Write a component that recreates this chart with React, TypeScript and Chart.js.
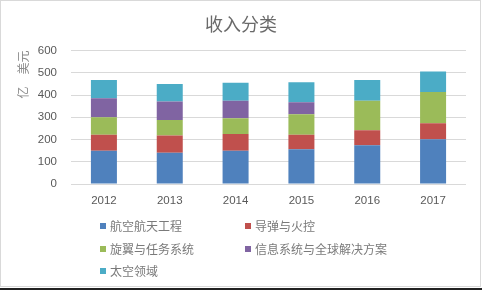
import React, { useEffect, useRef } from "react";
import { Chart, registerables } from "chart.js";

Chart.register(...registerables);

const years = ["2012", "2013", "2014", "2015", "2016", "2017"];
const seriesNames = ["航空航天工程", "导弹与火控", "旋翼与任务系统", "信息系统与全球解决方案", "太空领域"];
const aerospace = [149, 140, 149, 156, 174, 201];
const missiles = [72, 78, 76, 65, 68, 72];
const rotary = [79, 70, 71, 93, 133, 141];
const infoSystems = [86, 83, 78, 54, 0, 0];
const space = [82, 79, 81, 90, 93, 92];
const colors = ["#4F81BD", "#C0504D", "#9BBB59", "#8064A2", "#4BACC6"];
const yTicks = [0, 100, 200, 300, 400, 500, 600];

const FONT = "'Noto Sans CJK SC', 'Noto Sans', sans-serif";
const NUMFONT = "'Liberation Sans', 'DejaVu Sans', sans-serif";

const legendPlugin = {
  id: "customLegend",
  afterDraw(chart: any) {
    const ctx = chart.ctx;
    const cols = [100, 245];
    const rows = [226, 249, 271];
    ctx.save();
    ctx.font = `12px ${FONT}`;
    ctx.textBaseline = "middle";
    ctx.textAlign = "left";
    chart.data.datasets.forEach((ds: any, i: number) => {
      const x = cols[i % 2];
      const y = rows[Math.floor(i / 2)];
      ctx.fillStyle = ds.backgroundColor;
      ctx.fillRect(x, y - 3, 6, 6);
      ctx.fillStyle = "#7a7a7a";
      ctx.fillText(ds.label, x + 10, y + 0.5);
    });
    ctx.restore();
  },
};

export default function App() {
  const ref = useRef<HTMLCanvasElement | null>(null);
  useEffect(() => {
    if (!ref.current) return;
    const values = [aerospace, missiles, rotary, infoSystems, space];
    const chart = new Chart(ref.current, {
      type: "bar",
      data: {
        labels: years,
        datasets: values.map((v, i) => ({
          label: seriesNames[i],
          data: v,
          backgroundColor: colors[i],
          borderWidth: 0,
          categoryPercentage: 1,
          barPercentage: 0.395,
        })),
      },
      options: {
        responsive: false,
        animation: false,
        devicePixelRatio: 1,
        layout: { padding: { left: 16, right: 16, top: 0, bottom: 0 } },
        plugins: {
          legend: { display: false },
          tooltip: { enabled: false },
          title: {
            display: true,
            text: "收入分类",
            color: "#6a6a6a",
            font: { size: 18, family: FONT, weight: "normal" },
            padding: { top: 13, bottom: 16 },
          },
        },
        scales: {
          x: {
            stacked: true,
            grid: { display: false, drawTicks: false },
            border: { display: false },
            ticks: { color: "#595959", font: { size: 11.5, family: NUMFONT }, padding: 10 },
            afterFit: (s: any) => {
              s.height = 106;
            },
          },
          y: {
            stacked: true,
            min: 0,
            max: 600,
            afterBuildTicks: (s: any) => {
              s.ticks = yTicks.map((v) => ({ value: v }));
            },
            grid: { color: "#d9d9d9", drawTicks: false, lineWidth: 1 },
            border: { display: false },
            ticks: { color: "#595959", font: { size: 11.5, family: NUMFONT }, padding: 14 },
            title: {
              display: true,
              text: "亿　美元",
              align: "end",
              color: "#8a8a8a",
              font: { size: 12, family: FONT },
              padding: { top: 0, bottom: 0 },
            },
            afterFit: (s: any) => {
              s.width = 55;
            },
          },
        },
      },
      plugins: [legendPlugin],
    } as any);
    return () => chart.destroy();
  }, []);

  return (
    <div style={{ position: "fixed", left: 0, top: 0, width: 482, height: 290, background: "#fff" }}>
      <canvas ref={ref} width={482} height={290} style={{ position: "absolute", left: 0, top: 0, width: 482, height: 290, display: "block" }} />
      <div style={{ position: "absolute", left: 0, top: 0, width: 479, height: 285, border: "1px solid #d9d9d9", pointerEvents: "none" }} />
      <div style={{ position: "absolute", left: 0, top: 288, width: 482, height: 2, background: "#222" }} />
    </div>
  );
}
